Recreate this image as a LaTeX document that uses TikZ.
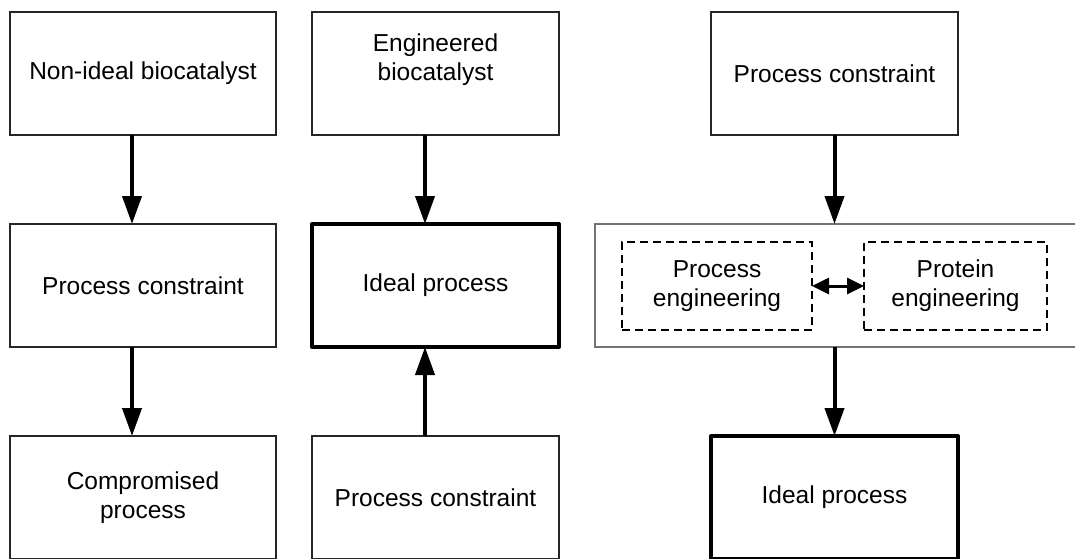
\documentclass[tikz,border=0pt]{standalone}
\usepackage{fontspec}
\setmainfont{Liberation Sans}
\usetikzlibrary{arrows.meta}
\begin{document}
\begin{tikzpicture}[x=1pt,y=-1pt,
  box/.style={draw=black!85, line width=1.2pt, minimum width=247pt, minimum height=123pt,
    inner sep=0pt, outer sep=0pt, align=center, font=\fontsize{24.5}{29}\selectfont},
  wbox/.style={box, minimum width=266pt},
  thickbox/.style={box, draw=black, line width=4pt, line join=round},
  groupbox/.style={box, draw=black!55, minimum width=490pt},
  dbox/.style={box, draw=black, line width=1.3pt, dash pattern=on 8pt off 5pt,
    minimum height=88pt, font=\fontsize{24.5}{29}\selectfont},
  arr/.style={line width=4pt, -{Triangle[width=19pt,length=28pt]}},
  darr/.style={line width=3pt, {Triangle[width=16pt,length=17pt]}-{Triangle[width=16pt,length=17pt]}}
]
\fill[white] (0,0) rectangle (1075,558);
\useasboundingbox (0,0) rectangle (1075,558);

% column 1
\node[wbox] (a1) at (143,73.5) {Non-ideal biocatalyst};
\node[wbox] (a2) at (143,285.5) {Process constraint};
\node[wbox] (a3) at (143,497.5) {Compromised\\process};

% column 2
\node[box, label={[font=\fontsize{24.5}{29}\selectfont, align=center, yshift=14pt]center:Engineered\\biocatalyst}] (b1) at (435.5,73.5) {};
\node[thickbox] (b2) at (435.5,285.5) {Ideal process};
\node[box] (b3) at (435.5,497.5) {Process constraint};

% column 3
\node[box] (c1) at (834.5,73.5) {Process constraint};
\node[groupbox] (c2) at (840,285.5) {};
\node[dbox, minimum width=190pt] (d1) at (717,286) {Process\\engineering};
\node[dbox, minimum width=183pt] (d2) at (955.5,286) {Protein\\engineering};
\node[thickbox] (c3) at (834.5,497.5) {Ideal process};

% connectors
\draw[arr] ([xshift=-11pt]a1.south) -- ([xshift=-11pt]a2.north);
\draw[arr] ([xshift=-11pt]a2.south) -- ([xshift=-11pt]a3.north);
\draw[arr] ([xshift=-10.5pt]b1.south) -- ([xshift=-10.5pt]b2.north);
\draw[arr] ([xshift=-10.5pt]b3.north) -- ([xshift=-10.5pt]b2.south);
\draw[arr] (c1.south) -- (c2.north -| c1.south);
\draw[arr] (c2.south -| c3.north) -- (c3.north);
\draw[darr] (d1.east) -- (d2.west);
\end{tikzpicture}
\end{document}
